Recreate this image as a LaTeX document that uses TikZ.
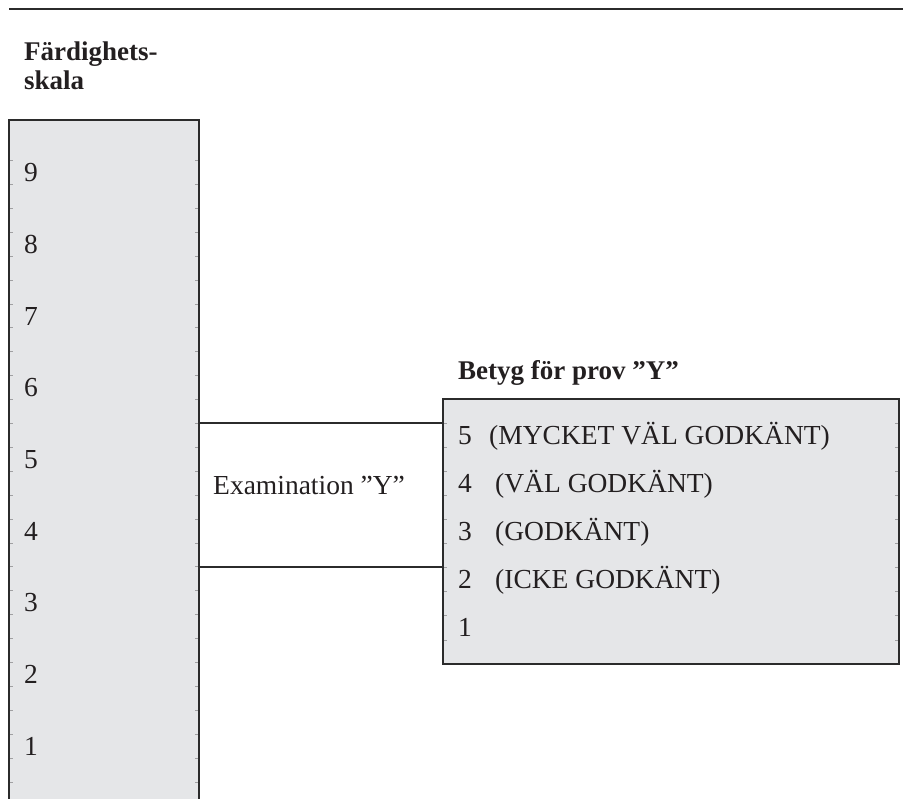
\documentclass[tikz,border=0pt]{standalone}
\usepackage{fontspec}
\setmainfont{Liberation Serif}
\definecolor{boxfill}{HTML}{E5E6E8}
\definecolor{ink}{HTML}{231F20}
\definecolor{edge}{HTML}{2B2B2B}
\definecolor{tick}{HTML}{A0A0A2}
\begin{document}
\begin{tikzpicture}[x=1pt,y=-1pt,
  panel/.style={draw=edge,line width=1.6pt,fill=boxfill,rectangle,inner sep=0pt},
  link/.style={draw=edge,line width=1.6pt},
  rowtick/.style={draw=tick,line width=0.7pt},
  txt/.style={text=ink,inner sep=0pt,anchor=base west,font=\fontsize{27.5}{30}\selectfont},
  head/.style={text=ink,inner sep=0pt,anchor=base west,font=\fontsize{27}{29}\selectfont\bfseries,align=left}]
\useasboundingbox (0,0) rectangle (905,798);
% top rule
\coordinate (ruleL) at (9,9);
\coordinate (ruleR) at (903,9);
\draw[link] (ruleL) -- (ruleR);
% heading left
\node[head] (hscale) at (24,60) {Färdighets-};
\node[head] (hscale2) at (24,89) {skala};
% left scale box (bottom runs off the page)
\node[panel,minimum width=190pt,minimum height=690pt] (scale) at (104,465) {};
\foreach \k in {0,...,26}{
  \draw[rowtick] (9.8,160.5+23.9*\k) -- (13,160.5+23.9*\k);
  \draw[rowtick] (198.2,160.5+23.9*\k) -- (195,160.5+23.9*\k);
}
\foreach \n in {9,...,1}{
  \node[txt] (s\n) at (24,181.6+71.7*9-71.7*\n) {\n};
}
% right grade box
\node[panel,minimum width=456pt,minimum height=265pt] (grades) at (671,531.5) {};
\foreach \k in {1,...,10}{
  \draw[rowtick] (443.8,399+24.09*\k) -- (447,399+24.09*\k);
  \draw[rowtick] (898.2,399+24.09*\k) -- (895,399+24.09*\k);
}
\node[head] (hgrade) at (458,379) {Betyg för prov ”Y”};
\node[txt] (g5) at (458,444) {5};
\node[txt] (g5t) at (489,444) {(MYCKET VÄL GODKÄNT)};
\node[txt] (g4) at (458,492) {4};
\node[txt] (g4t) at (495,492) {(VÄL GODKÄNT)};
\node[txt] (g3) at (458,540) {3};
\node[txt] (g3t) at (495,540) {(GODKÄNT)};
\node[txt] (g2) at (458,588) {2};
\node[txt] (g2t) at (495,588) {(ICKE GODKÄNT)};
\node[txt] (g1) at (458,636) {1};
% connectors
\coordinate (up) at (0,423);
\coordinate (dn) at (0,567);
\draw[link] (scale.east |- up) -- (grades.west |- up);
\draw[link] (scale.east |- dn) -- (grades.west |- dn);
\node[txt] (exam) at (213,494) {Examination ”Y”};
\end{tikzpicture}
\end{document}
